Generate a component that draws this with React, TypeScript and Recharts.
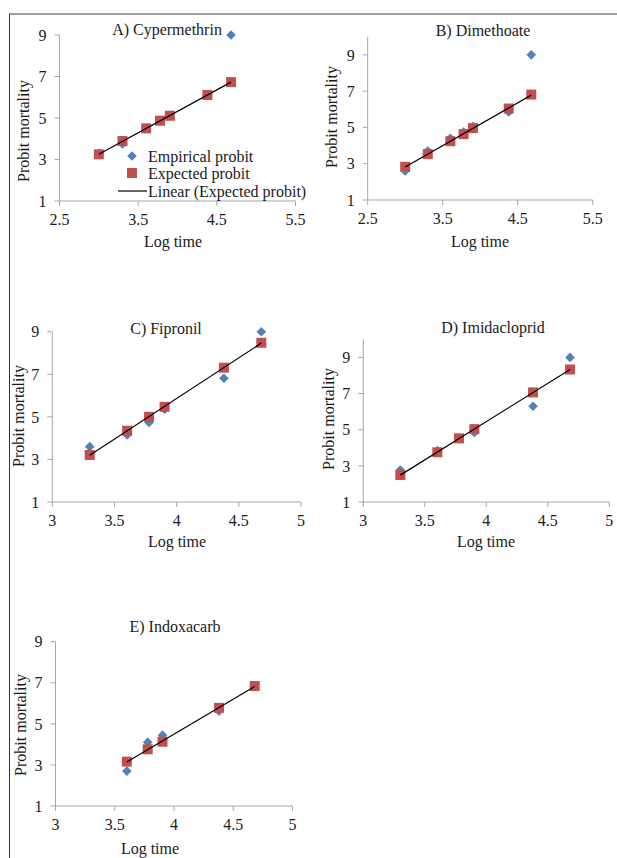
import { Legend, Scatter, ScatterChart, XAxis, YAxis } from "recharts";

// log10 of exposure time
const cyperTime = [3.0, 3.301, 3.602, 3.778, 3.903, 4.38, 4.681];
const cyperEmpirical = [3.3, 3.75, 4.5, 4.87, 5.1, 6.1, 9.0];
const cyperExpected = [3.25, 3.89, 4.5, 4.87, 5.11, 6.11, 6.73];

const dimeTime = [3.0, 3.301, 3.602, 3.778, 3.903, 4.38, 4.681];
const dimeEmpirical = [2.6, 3.7, 4.4, 4.75, 5.05, 5.85, 9.0];
const dimeExpected = [2.83, 3.53, 4.24, 4.63, 4.96, 6.04, 6.81];

const fipTime = [3.301, 3.602, 3.778, 3.903, 4.38, 4.681];
const fipEmpirical = [3.6, 4.15, 4.74, 5.35, 6.81, 9.0];
const fipExpected = [3.21, 4.35, 5.0, 5.47, 7.31, 8.48];

const imiTime = [3.301, 3.602, 3.778, 3.903, 4.38, 4.681];
const imiEmpirical = [2.77, 3.85, 4.5, 4.85, 6.3, 9.0];
const imiExpected = [2.49, 3.75, 4.52, 5.03, 7.06, 8.33];

const indTime = [3.602, 3.778, 3.903, 4.38, 4.681];
const indEmpirical = [2.7, 4.1, 4.45, 5.62, 6.85];
const indExpected = [3.16, 3.76, 4.13, 5.78, 6.84];

const xTicksWide = [2.5, 3.5, 4.5, 5.5];
const xTicksNarrow = [3, 3.5, 4, 4.5, 5];
const yTicks = [1, 3, 5, 7, 9];

const legendLabels = ["Empirical probit", "Expected probit", "Linear (Expected probit)"];

const BLUE = "#4F81BD";
const RED = "#C0504D";
const AXIS = "#A6A6A6";
const TEXT = "#1a1a1a";
const FONT = "'Liberation Serif', 'Times New Roman', serif";

const Y_AXIS_W = 40;
const X_AXIS_H = 30;

type Pt = { x: number; y: number };
const toPoints = (xs: number[], ys: number[]): Pt[] => xs.map((x, i) => ({ x, y: ys[i] }));

// least squares trendline over the expected probit
function trend(pts: Pt[]): Pt[] {
  const n = pts.length;
  const mx = pts.reduce((s, p) => s + p.x, 0) / n;
  const my = pts.reduce((s, p) => s + p.y, 0) / n;
  let num = 0;
  let den = 0;
  pts.forEach((p) => {
    num += (p.x - mx) * (p.y - my);
    den += (p.x - mx) * (p.x - mx);
  });
  const b = num / den;
  const a = my - b * mx;
  const x0 = pts[0].x;
  const x1 = pts[n - 1].x;
  return [
    { x: x0, y: a + b * x0 },
    { x: x1, y: a + b * x1 },
  ];
}

const Diamond = (props: any) => {
  const { cx, cy } = props;
  const r = 4.8;
  return <polygon points={`${cx},${cy - r} ${cx + r},${cy} ${cx},${cy + r} ${cx - r},${cy}`} fill={BLUE} />;
};

const Square = (props: any) => <rect x={props.cx - 5} y={props.cy - 5} width={10} height={10} fill={RED} />;

const renderLegend = () => (
  <svg width={200} height={60} style={{ display: "block" }}>
    <polygon points="22,7.2 26.8,12 22,16.8 17.2,12" fill={BLUE} />
    <rect x={17} y={24} width={10} height={10} fill={RED} />
    <line x1={8} y1={47} x2={37} y2={47} stroke="#000" strokeWidth={1.2} />
    {legendLabels.map((l, i) => (
      <text key={l} x={38} y={[12, 29, 47][i]} dominantBaseline="central" fontSize={16} fontFamily={FONT} fill={TEXT}>
        {l}
      </text>
    ))}
  </svg>
);

type PanelProps = {
  box: [number, number, number, number]; // left, top, width, height
  plot: [number, number, number, number]; // x0, x1, y0, y1 (page)
  xDomain: [number, number];
  xTicks: number[];
  yDomain: [number, number];
  time: number[];
  empirical: number[];
  expected: number[];
  legend?: boolean;
};

function Panel({ box, plot, xDomain, xTicks, yDomain, time, empirical, expected, legend }: PanelProps) {
  const [cl, ct, cw, ch] = box;
  const [x0, x1, y0, y1] = plot;
  const margin = {
    left: x0 - cl - Y_AXIS_W,
    top: y0 - ct,
    right: cl + cw - x1,
    bottom: ct + ch - y1 - X_AXIS_H,
  };
  const emp = toPoints(time, empirical);
  const exp = toPoints(time, expected);
  const tick = { fontSize: 16, fill: TEXT, fontFamily: FONT };
  return (
    <div style={{ position: "absolute", left: cl, top: ct }}>
      <ScatterChart width={cw} height={ch} margin={margin}>
        <XAxis
          type="number"
          dataKey="x"
          domain={xDomain}
          ticks={xTicks}
          interval={0}
          height={X_AXIS_H}
          tick={tick}
          tickSize={5}
          tickMargin={8}
          axisLine={{ stroke: AXIS }}
          tickLine={{ stroke: AXIS }}
        />
        <YAxis
          type="number"
          dataKey="y"
          domain={yDomain}
          ticks={yTicks}
          interval={0}
          width={Y_AXIS_W}
          tick={tick}
          tickSize={5}
          tickMargin={8}
          axisLine={{ stroke: AXIS }}
          tickLine={{ stroke: AXIS }}
        />
        <Scatter name={legendLabels[0]} data={emp} shape={Diamond} isAnimationActive={false} />
        <Scatter name={legendLabels[1]} data={exp} shape={Square} isAnimationActive={false} />
        <Scatter
          name={legendLabels[2]}
          data={trend(exp)}
          line={{ stroke: "#000", strokeWidth: 1.2 }}
          shape={() => <g />}
          isAnimationActive={false}
        />
        {legend && (
          <Legend
            layout="vertical"
            align="center"
            verticalAlign="middle"
            content={renderLegend}
            wrapperStyle={{ position: "absolute", left: 100, top: 130, width: 200, height: 60 }}
          />
        )}
      </ScatterChart>
    </div>
  );
}

const titles: [string, number, number][] = [
  ["A) Cypermethrin", 167, 29],
  ["B) Dimethoate", 483, 30],
  ["C) Fipronil", 166, 328],
  ["D) Imidacloprid", 493, 327],
  ["E) Indoxacarb", 175, 626],
];
const xLabels: [number, number][] = [
  [173, 241],
  [480, 241],
  [177, 541],
  [486, 541],
  [150, 848],
];
const yLabels: [number, number][] = [
  [23, 131],
  [331, 117],
  [18, 416],
  [328, 419],
  [20, 725],
];

export default function App() {
  return (
    <div style={{ position: "absolute", left: 0, top: 0, width: 617, height: 858, background: "#fff", fontFamily: FONT }}>
      <svg width={617} height={858} style={{ position: "absolute", left: 0, top: 0 }}>
        <line x1={9} y1={14} x2={617} y2={14} stroke="#808080" strokeWidth={1.6} />
        <line x1={9.5} y1={14} x2={9.5} y2={858} stroke="#333" strokeWidth={1} />
        {titles.map(([t, x, y]) => (
          <text key={t} x={x} y={y} textAnchor="middle" dominantBaseline="central" fontSize={16} fill={TEXT}>
            {t}
          </text>
        ))}
        {xLabels.map(([x, y], i) => (
          <text key={"x" + i} x={x} y={y} textAnchor="middle" dominantBaseline="central" fontSize={16} fill={TEXT}>
            Log time
          </text>
        ))}
        {yLabels.map(([x, y], i) => (
          <text
            key={"y" + i}
            x={x}
            y={y}
            textAnchor="middle"
            dominantBaseline="central"
            fontSize={16}
            fill={TEXT}
            transform={`rotate(-90 ${x} ${y})`}
          >
            Probit mortality
          </text>
        ))}
      </svg>
      <Panel
        box={[10, 14, 300, 250]}
        plot={[59.5, 295.5, 35, 201]}
        xDomain={[2.5, 5.5]}
        xTicks={xTicksWide}
        yDomain={[1, 9]}
        time={cyperTime}
        empirical={cyperEmpirical}
        expected={cyperExpected}
        legend
      />
      <Panel
        box={[305, 14, 312, 250]}
        plot={[367.7, 592.7, 36.7, 200]}
        xDomain={[2.5, 5.5]}
        xTicks={xTicksWide}
        yDomain={[1, 10]}
        time={dimeTime}
        empirical={dimeEmpirical}
        expected={dimeExpected}
      />
      <Panel
        box={[10, 300, 300, 260]}
        plot={[52.3, 301, 331.7, 502]}
        xDomain={[3, 5]}
        xTicks={xTicksNarrow}
        yDomain={[1, 9]}
        time={fipTime}
        empirical={fipEmpirical}
        expected={fipExpected}
      />
      <Panel
        box={[305, 300, 312, 260]}
        plot={[363.3, 609.3, 339.3, 502]}
        xDomain={[3, 5]}
        xTicks={xTicksNarrow}
        yDomain={[1, 10]}
        time={imiTime}
        empirical={imiEmpirical}
        expected={imiExpected}
      />
      <Panel
        box={[10, 600, 300, 258]}
        plot={[55.5, 292.5, 641.7, 806]}
        xDomain={[3, 5]}
        xTicks={xTicksNarrow}
        yDomain={[1, 9]}
        time={indTime}
        empirical={indEmpirical}
        expected={indExpected}
      />
    </div>
  );
}
